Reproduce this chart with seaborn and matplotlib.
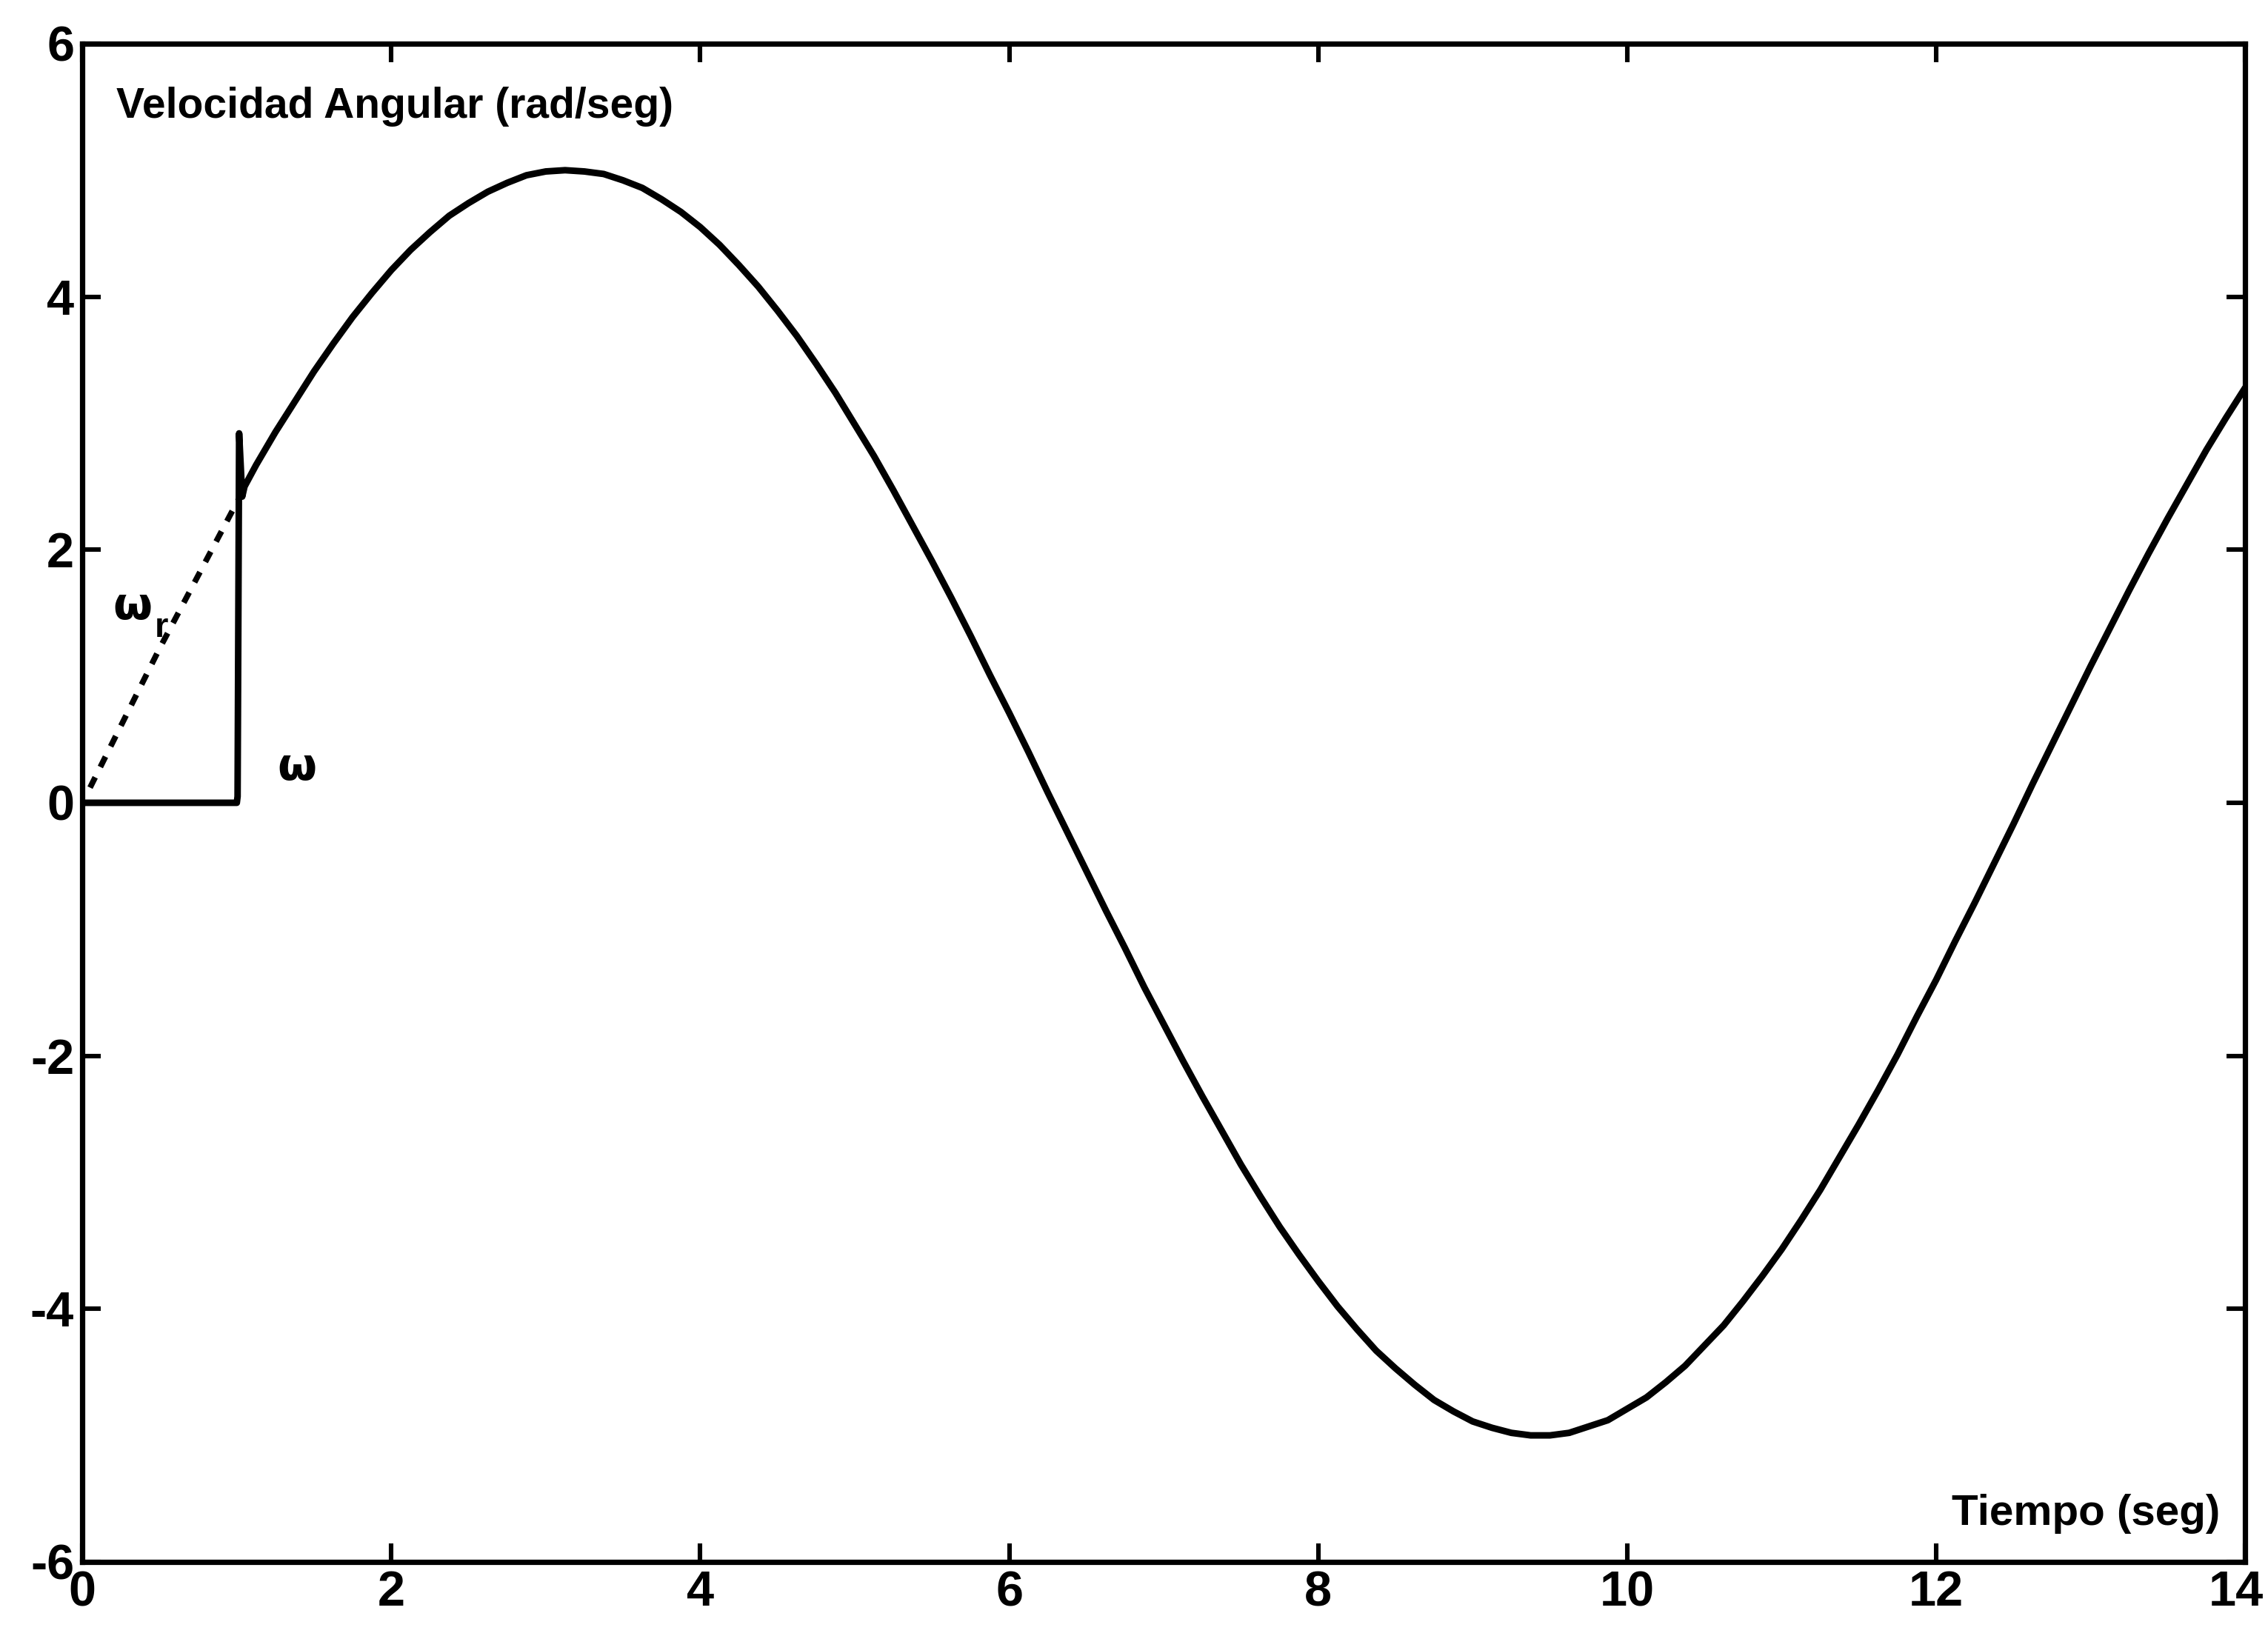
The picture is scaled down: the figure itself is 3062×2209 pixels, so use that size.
import seaborn as sns
import matplotlib
matplotlib.use("Agg")
import matplotlib.pyplot as plt
import matplotlib.transforms as mtransforms
import pandas as pd

# valores leidos de la figura
# referencia omega_r (tramo punteado al inicio)
t_ref = [0.05, 0.5, 1.02]
w_ref = [0.12, 1.22, 2.42]

# velocidad angular omega (trazo continuo)
t_w = [0.0, 1.0, 1.005, 1.015, 1.035, 1.05,
       1.125, 1.25, 1.375, 1.5, 1.625, 1.75, 1.875, 2.0, 2.125, 2.25, 2.375,
       2.5, 2.625, 2.75, 2.875, 3.0, 3.125, 3.25, 3.375, 3.5, 3.625, 3.75, 3.875,
       4.0, 4.125, 4.25, 4.375, 4.5, 4.625, 4.75, 4.875, 5.0, 5.125, 5.25, 5.375,
       5.5, 5.625, 5.75, 5.875, 6.0, 6.125, 6.25, 6.375, 6.5, 6.625, 6.75, 6.875,
       7.0, 7.125, 7.25, 7.375, 7.5, 7.625, 7.75, 7.875, 8.0, 8.125, 8.25, 8.375,
       8.5, 8.625, 8.75, 8.875, 9.0, 9.125, 9.25, 9.375, 9.5, 9.625, 9.75, 9.875,
       10.0, 10.125, 10.25, 10.375, 10.5, 10.625, 10.75, 10.875, 11.0, 11.125,
       11.25, 11.375, 11.5, 11.625, 11.75, 11.875, 12.0, 12.125, 12.25, 12.375,
       12.5, 12.625, 12.75, 12.875, 13.0, 13.125, 13.25, 13.375, 13.5, 13.625,
       13.75, 13.875, 14.0]
w_w = [0.0, 0.0, 0.05, 2.92, 2.42, 2.50,
       2.67, 2.93, 3.17, 3.41, 3.63, 3.84, 4.03, 4.21, 4.37, 4.51, 4.64,
       4.74, 4.83, 4.90, 4.96, 4.99, 5.00, 4.99, 4.97, 4.92, 4.86, 4.77, 4.67,
       4.55, 4.41, 4.25, 4.08, 3.89, 3.69, 3.47, 3.24, 2.99, 2.74, 2.47, 2.19,
       1.91, 1.62, 1.32, 1.01, 0.71, 0.40, 0.08, -0.23, -0.54, -0.85, -1.15, -1.46,
       -1.75, -2.04, -2.32, -2.59, -2.86, -3.11, -3.35, -3.57, -3.78, -3.98, -4.16, -4.33,
       -4.47, -4.60, -4.72, -4.81, -4.89, -4.94, -4.98, -5.00, -5.00, -4.98, -4.93, -4.88,
       -4.79, -4.70, -4.58, -4.45, -4.29, -4.13, -3.94, -3.74, -3.53, -3.30,
       -3.06, -2.80, -2.54, -2.27, -1.99, -1.69, -1.40, -1.09, -0.79, -0.48,
       -0.17, 0.15, 0.46, 0.77, 1.08, 1.38, 1.68, 1.97, 2.25, 2.52,
       2.79, 3.04, 3.28]

x_ticks = [0, 2, 4, 6, 8, 10, 12, 14]
y_ticks = [-6, -4, -2, 0, 2, 4, 6]

sns.set_style("ticks")
plt.rcParams['font.family'] = ['Liberation Sans', 'DejaVu Sans']
plt.rcParams['font.weight'] = 'bold'
plt.rcParams['text.color'] = 'black'
plt.rcParams['axes.unicode_minus'] = False

df_w = pd.DataFrame({'t': t_w, 'w': w_w})
df_r = pd.DataFrame({'t': t_ref, 'w': w_ref})

fig = plt.figure(figsize=(15.31, 11.045), dpi=200)
ax = fig.add_axes([0.0363, 0.0453, 0.9536, 0.928])

sns.lineplot(data=df_w, x='t', y='w', ax=ax, color='black', linewidth=3.2,
             sort=False, estimator=None)
sns.lineplot(data=df_r, x='t', y='w', ax=ax, color='black', linewidth=2.8,
             linestyle=(0, (2.0, 2.0)), sort=False, estimator=None)

ax.set_xlim(0, 14)
ax.set_ylim(-6, 6)
ax.set_xticks(x_ticks)
ax.set_yticks(y_ticks)
ax.set_xlabel('')
ax.set_ylabel('')
ax.tick_params(direction='in', top=True, right=True, length=9, width=2.2,
               labelsize=24, pad=4, colors='black')
for lab in ax.get_xticklabels() + ax.get_yticklabels():
    lab.set_fontweight('bold')
# el ultimo rotulo (14) queda pegado al borde derecho
ultimo = ax.get_xticklabels()[-1]
ultimo.set_transform(ultimo.get_transform() +
                     mtransforms.ScaledTranslation(-0.06, 0, fig.dpi_scale_trans))
for s in ax.spines.values():
    s.set_linewidth(2.6)
    s.set_color('black')

ax.text(0.22, 5.5, 'Velocidad Angular (rad/seg)', fontsize=20.5, fontweight='bold',
        va='center', ha='left', color='black')
ax.text(13.84, -5.62, 'Tiempo (seg)', fontsize=21, fontweight='bold',
        va='center', ha='right', color='black')
ax.text(0.2, 1.55, 'ω', fontsize=22, fontweight='bold', va='center', ha='left',
        family=['DejaVu Sans'], color='black')
ax.text(0.47, 1.38, 'r', fontsize=17, fontweight='bold', va='center', ha='left',
        color='black')
ax.text(1.26, 0.28, 'ω', fontsize=22, fontweight='bold', va='center', ha='left',
        family=['DejaVu Sans'], color='black')

fig.savefig('out.png', dpi=200, facecolor='white')
